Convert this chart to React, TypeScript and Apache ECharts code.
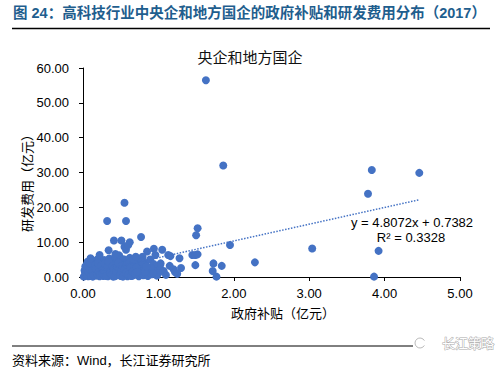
import React, { useEffect, useRef } from "react";
import * as echarts from "echarts";

const pageTitle = "图 24：高科技行业中央企和地方国企的政府补贴和研发费用分布（2017）";
const chartTitle = "央企和地方国企";
const xName = "政府补贴（亿元）";
const yName = "研发费用（亿元）";
const source = "资料来源：Wind，长江证券研究所";
const watermark = "长江策略";
const trendCoef = [4.8072, 0.7382];
const trendRange = [0, 4.46];
const trendText = ["y = 4.8072x + 0.7382", "R² = 0.3328"];

const outliers: number[][] = [
  [1.63, 56.5], [1.86, 32.0], [0.55, 21.3], [0.32, 16.1], [0.57, 16.1], [1.52, 14.0], [1.5, 12.0],
  [0.77, 11.5], [0.41, 10.5], [0.51, 10.5], [0.62, 10.0], [1.95, 9.2], [0.55, 8.7], [0.57, 7.8],
  [0.34, 7.7], [0.94, 8.1], [1.05, 7.8], [0.85, 7.3], [0.43, 6.6], [1.13, 6.3], [1.16, 6.0],
  [1.28, 5.4], [1.45, 6.3], [1.49, 6.3], [1.52, 6.5], [1.49, 3.4], [1.73, 3.9], [1.84, 3.2],
  [1.72, 1.7], [1.77, 0.1], [2.28, 4.2], [1.2, 2.2], [1.22, 1.4], [1.07, 1.7], [0.96, 6.3],
  [0.7, 5.8], [0.79, 5.8], [1.03, 3.9], [0.94, 3.7], [0.9, 2.5], [1.0, 1.1], [3.83, 30.7],
  [4.46, 29.9], [3.78, 23.9], [3.04, 8.2], [3.92, 7.5], [3.86, 0.1], [0.6, 9.2], [0.22, 6.3],
  [0.1, 5.4], [0.93, 1.1], [0.82, 1.5], [0.78, 4.4], [0.84, 3.0],
];

const cluster: number[][] = [
  [0.02, 0.3], [0.03, 1.2], [0.04, 2.5], [0.05, 0.8], [0.05, 3.6], [0.06, 1.8], [0.07, 0.2], [0.08, 4.1],
  [0.08, 2.9], [0.09, 1.0], [0.1, 0.5], [0.11, 3.3], [0.12, 1.6], [0.12, 2.2], [0.13, 0.1], [0.14, 4.6],
  [0.15, 0.9], [0.15, 2.8], [0.16, 1.3], [0.17, 3.9], [0.18, 0.4], [0.18, 2.0], [0.19, 5.0], [0.2, 1.1],
  [0.21, 3.1], [0.22, 0.2], [0.22, 1.9], [0.23, 4.3], [0.24, 2.6], [0.25, 0.7], [0.25, 1.5], [0.26, 3.6],
  [0.27, 0.3], [0.28, 2.3], [0.28, 4.9], [0.29, 1.2], [0.3, 0.6], [0.3, 3.0], [0.31, 1.8], [0.32, 4.0],
  [0.33, 0.2], [0.33, 2.5], [0.34, 1.0], [0.35, 5.3], [0.35, 3.4], [0.36, 0.5], [0.37, 1.7], [0.37, 2.9],
  [0.38, 4.5], [0.39, 0.9], [0.4, 2.1], [0.4, 0.1], [0.41, 3.8], [0.42, 1.4], [0.43, 5.8], [0.43, 2.7],
  [0.44, 0.4], [0.45, 3.3], [0.45, 1.9], [0.46, 4.8], [0.47, 0.8], [0.48, 2.4], [0.48, 6.2], [0.49, 1.3],
  [0.5, 3.6], [0.5, 0.3], [0.51, 4.3], [0.52, 2.0], [0.53, 1.0], [0.54, 5.1], [0.54, 3.0], [0.55, 0.6],
  [0.56, 2.6], [0.57, 4.0], [0.58, 1.5], [0.59, 0.2], [0.6, 3.4], [0.61, 2.2], [0.62, 5.5], [0.62, 0.9],
  [0.63, 1.8], [0.64, 4.6], [0.65, 2.8], [0.66, 0.4], [0.67, 3.7], [0.68, 1.3], [0.69, 2.4], [0.7, 4.9],
  [0.71, 0.7], [0.72, 3.2], [0.73, 1.9], [0.74, 0.2], [0.75, 4.2], [0.76, 2.6], [0.77, 1.1], [0.78, 3.5],
  [0.8, 0.5], [0.81, 2.1], [0.83, 4.0], [0.85, 1.6], [0.86, 0.3], [0.88, 2.7], [0.89, 5.0], [0.91, 0.8],
  [0.95, 2.0], [0.98, 0.4], [1.02, 2.8], [1.1, 0.6], [1.15, 3.2], [1.25, 0.9], [1.3, 2.6],
  [0.01, 0.1], [0.02, 1.9], [0.03, 3.0], [0.04, 0.6], [0.06, 4.4], [0.07, 1.4], [0.09, 2.3], [0.1, 3.8],
  [0.11, 0.3], [0.13, 1.9], [0.14, 0.6], [0.16, 3.4], [0.17, 2.4], [0.19, 0.8], [0.2, 4.0], [0.21, 1.5],
  [0.23, 0.5], [0.24, 3.2], [0.26, 1.0], [0.27, 2.0], [0.29, 3.9], [0.31, 0.3], [0.32, 2.9], [0.34, 4.3],
  [0.36, 1.3], [0.38, 0.6], [0.39, 3.1], [0.41, 2.4], [0.42, 0.2], [0.44, 1.6], [0.46, 2.9], [0.47, 4.1],
  [0.49, 0.6], [0.51, 1.7], [0.52, 3.2], [0.53, 0.1], [0.55, 2.2], [0.57, 1.2], [0.58, 3.6], [0.6, 0.7],
  [0.61, 4.1], [0.63, 2.9], [0.64, 0.3], [0.66, 1.6], [0.67, 5.0], [0.69, 0.9], [0.71, 2.8], [0.72, 1.5],
];

const xTicks = [0, 5, 1];
const yTicks = [0, 60, 10];

const FONT = "'Liberation Sans', 'Noto Sans CJK SC', sans-serif";
const BLUE = "#4472C4";

export default function App() {
  const ref = useRef<HTMLDivElement>(null);
  useEffect(() => {
    if (!ref.current) return;
    const chart = echarts.init(ref.current, undefined, { renderer: "svg" });
    const trend = trendRange.map((x) => [x, trendCoef[0] * x + trendCoef[1]]);
    chart.setOption({
      animation: false,
      backgroundColor: "#fff",
      textStyle: { fontFamily: FONT },
      grid: { left: 83, right: 42, top: 68, bottom: 95 },
      xAxis: {
        type: "value",
        min: xTicks[0],
        max: xTicks[1],
        interval: xTicks[2],
        axisLine: { lineStyle: { color: "#000", width: 1 } },
        axisTick: { show: true, length: 4, lineStyle: { color: "#000" } },
        splitLine: { show: false },
        axisLabel: { color: "#000", fontSize: 13, margin: 10, formatter: (v: number) => v.toFixed(2) },
      },
      yAxis: {
        type: "value",
        min: yTicks[0],
        max: yTicks[1],
        interval: yTicks[2],
        axisLine: { show: true, lineStyle: { color: "#000", width: 1 } },
        axisTick: { show: true, length: 4, lineStyle: { color: "#000" } },
        splitLine: { show: false },
        axisLabel: { color: "#000", fontSize: 13, margin: 14, formatter: (v: number) => v.toFixed(2) },
      },
      series: [
        {
          type: "scatter",
          data: cluster.concat(outliers),
          symbolSize: 8,
          itemStyle: { color: BLUE, opacity: 1 },
          z: 2,
        },
        {
          type: "line",
          data: trend,
          symbol: "none",
          lineStyle: { color: BLUE, width: 1.5, type: "dotted" },
          z: 3,
        },
      ],
      graphic: [
        {
          type: "text",
          left: 13,
          top: 6,
          style: { text: pageTitle, font: `bold 14.5px ${FONT}`, fill: "#1f5e8e" },
        },
        { type: "line", shape: { x1: 12, y1: 28.5, x2: 490, y2: 28.5 }, style: { stroke: "#000", lineWidth: 1.5 } },
        {
          type: "text",
          x: 250,
          y: 57,
          style: { text: chartTitle, font: `15px ${FONT}`, fill: "#111", align: "center", verticalAlign: "middle" },
        },
        {
          type: "text",
          x: 283,
          y: 313,
          style: { text: xName, font: `13px ${FONT}`, fill: "#000", align: "center", verticalAlign: "middle" },
        },
        {
          type: "text",
          x: 27,
          y: 180,
          rotation: Math.PI / 2,
          style: { text: yName, font: `13px ${FONT}`, fill: "#000", align: "center", verticalAlign: "middle" },
        },
        {
          type: "text",
          x: 412,
          y: 222,
          style: { text: trendText[0], font: `13px ${FONT}`, fill: "#000", align: "center", verticalAlign: "middle" },
        },
        {
          type: "text",
          x: 411,
          y: 237,
          style: { text: trendText[1], font: `13px ${FONT}`, fill: "#000", align: "center", verticalAlign: "middle" },
        },
        { type: "line", shape: { x1: 12, y1: 346, x2: 413, y2: 346 }, style: { stroke: "#000", lineWidth: 1 } },
        {
          type: "text",
          left: 12,
          top: 354,
          style: { text: source, font: `13px ${FONT}`, fill: "#000" },
        },
        { type: "arc", shape: { cx: 420, cy: 343, r: 5, startAngle: 0.5, endAngle: 5.8 }, style: { stroke: "#bbb", fill: "none", lineWidth: 1 } },
        {
          type: "text",
          x: 442,
          y: 343,
          style: { text: watermark, font: `13px ${FONT}`, fill: "#fff", stroke: "#aaa", lineWidth: 1, verticalAlign: "middle" },
        },
      ],
    });
    return () => chart.dispose();
  }, []);
  return <div ref={ref} style={{ width: 502, height: 372, position: "absolute", left: 0, top: 0 }} />;
}
